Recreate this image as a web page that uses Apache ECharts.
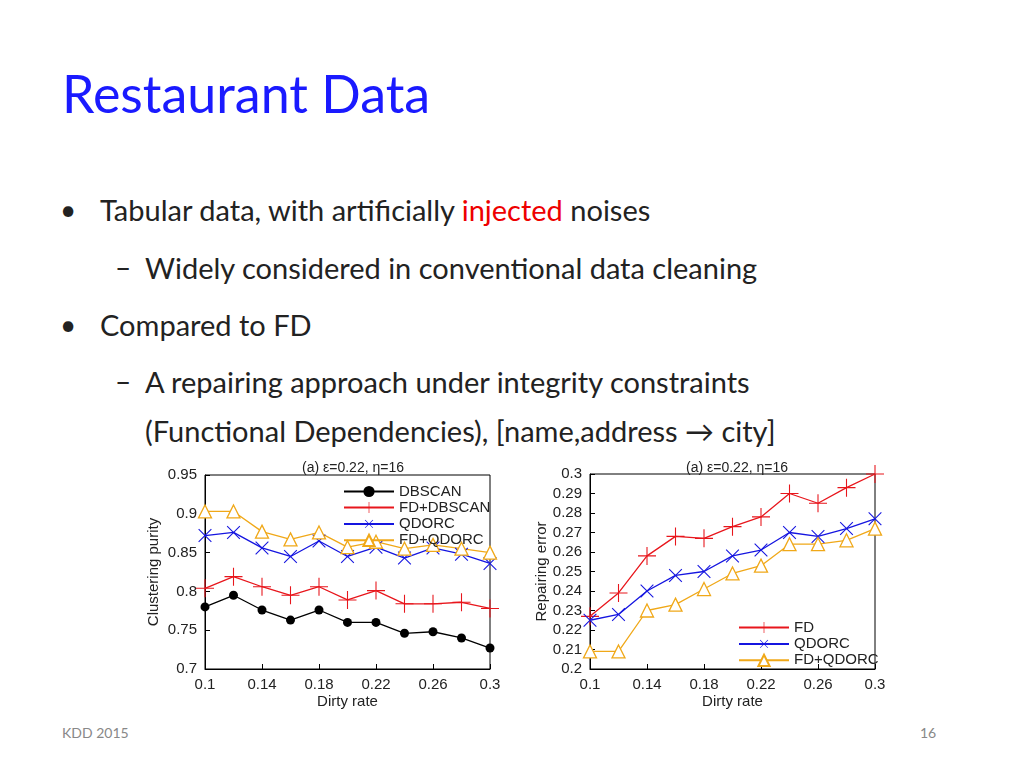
<!DOCTYPE html>
<html><head><meta charset="utf-8">
<script src="https://cdn.jsdelivr.net/npm/echarts@6/dist/echarts.min.js"></script>
<style>
body{margin:0;width:1024px;height:768px;position:relative;background:#fff;font-family:Lato,"Open Sans",sans-serif;overflow:hidden}
.t{position:absolute;white-space:nowrap;color:#222}
#c{position:absolute;left:0;top:0;width:1024px;height:768px}
</style></head><body>
<div class="t" style="left:62px;top:62px;font-size:52px;color:#1a1aff">Restaurant Data</div>
<div class="t" style="left:60px;top:192px;font-size:28px">•</div>
<div class="t" style="left:100px;top:192px;font-size:29px">Tabular data, with artificially <span style="color:#e00">injected</span> noises</div>
<div class="t" style="left:115px;top:250px;font-size:28px">–</div>
<div class="t" style="left:145px;top:250px;font-size:29px">Widely considered in conventional data cleaning</div>
<div class="t" style="left:60px;top:307px;font-size:28px">•</div>
<div class="t" style="left:100px;top:307px;font-size:29px">Compared to FD</div>
<div class="t" style="left:115px;top:364px;font-size:28px">–</div>
<div class="t" style="left:145px;top:364px;font-size:29px">A repairing approach under integrity constraints</div>
<div class="t" style="left:145px;top:413px;font-size:29px">(Functional Dependencies), [name,address → city]</div>
<div class="t" style="left:62px;top:724px;font-size:14px;color:#888">KDD 2015</div>
<div class="t" style="left:920px;top:724px;font-size:14px;color:#888">16</div>
<div id="c"></div>
<script>
const dirtyRate=[0.1,0.12,0.14,0.16,0.18,0.2,0.22,0.24,0.26,0.28,0.3];
const dbscan=[.780,.795,.776,.763,.776,.760,.760,.746,.748,.740,.727];
const fdDbscan=[.804,.819,.806,.795,.806,.789,.801,.784,.784,.786,.778];
const qdorcL=[.872,.876,.856,.845,.865,.845,.857,.843,.856,.848,.836];
const fdQdorcL=[.903,.903,.877,.867,.876,.857,.864,.855,.860,.855,.850];
const fd=[.227,.239,.258,.268,.267,.273,.278,.290,.285,.293,.300];
const qdorcR=[.225,.228,.240,.248,.250,.258,.261,.270,.268,.272,.277];
const fdQdorcR=[.209,.209,.230,.233,.241,.249,.253,.264,.264,.266,.272];

const plus='path://M9.4,0h1.2v20h-1.2zM0,9.4h20v1.2h-20z';
const F='"Liberation Sans",Arial,sans-serif';
const pair=a=>dirtyRate.map((x,i)=>[x,a[i]]);
function ser(name,data,color,sym,gi,rot,size,hollow){
  return {name,type:'line',xAxisIndex:gi,yAxisIndex:gi,data:pair(data),color,symbol:sym,symbolSize:size,symbolRotate:rot||0,
    lineStyle:{width:1.3,color,type:'solid'},itemStyle:{color:hollow?'#fff':color,borderColor:color,borderWidth:hollow?1.3:0}};
}
const lab={fontFamily:F,fontSize:15,color:'#222'};
const xa=gi=>({type:'value',gridIndex:gi,min:0.1,max:0.3,interval:0.04,name:'Dirty rate',nameLocation:'middle',nameGap:25,
  nameTextStyle:lab,axisLine:{lineStyle:{color:'#000'}},axisTick:{inside:true,length:5,lineStyle:{color:'#000'}},
  splitLine:{show:false},axisLabel:{...lab,margin:8,formatter:v=>+v.toFixed(2)}});
const ya=(gi,min,max,iv,name)=>({type:'value',gridIndex:gi,min,max,interval:iv,name,nameLocation:'middle',nameGap:gi?40:44,
  nameTextStyle:lab,axisLine:{lineStyle:{color:'#000'}},axisTick:{inside:true,length:5,lineStyle:{color:'#000'}},
  splitLine:{show:false},axisLabel:{...lab,margin:8,formatter:v=>+v.toFixed(2)}});
const ch=echarts.init(document.getElementById('c'));
ch.setOption({animation:false,
 title:[{text:'(a) ε=0.22, η=16',left:348,top:456,textAlign:'center',textStyle:{fontFamily:F,fontSize:14,fontWeight:'normal',color:'#222'}},
        {text:'(a) ε=0.22, η=16',left:732,top:456,textAlign:'center',textStyle:{fontFamily:F,fontSize:14,fontWeight:'normal',color:'#222'}}],
 grid:[{left:205,top:475,width:285,height:194,show:true,borderColor:'#000',borderWidth:1},
       {left:590,top:474,width:285,height:195,show:true,borderColor:'#000',borderWidth:1}],
 xAxis:[xa(0),xa(1)],
 yAxis:[ya(0,0.7,0.95,0.05,'Clustering purity'),ya(1,0.2,0.3,0.01,'Repairing error')],
 legend:[{data:['DBSCAN','FD+DBSCAN','QDORC','FD+QDORC'],left:338,top:479,orient:'vertical',itemGap:1,itemWidth:50,itemHeight:14,
   textStyle:lab},
  {data:['FD','QDORC ','FD+QDORC '],left:733,top:615,orient:'vertical',itemGap:1,itemWidth:50,itemHeight:14,
   textStyle:lab}],
 series:[ser('DBSCAN',dbscan,'#000','circle',0,0,9),
  ser('FD+DBSCAN',fdDbscan,'#e8161c',plus,0,0,18),
  ser('QDORC',qdorcL,'#1515e0',plus,0,45,18),
  ser('FD+QDORC',fdQdorcL,'#f0a818','triangle',0,0,13,true),
  ser('FD',fd,'#e8161c',plus,1,0,18),
  ser('QDORC ',qdorcR,'#1515e0',plus,1,45,18),
  ser('FD+QDORC ',fdQdorcR,'#f0a818','triangle',1,0,13,true)]
});
</script></body></html>
